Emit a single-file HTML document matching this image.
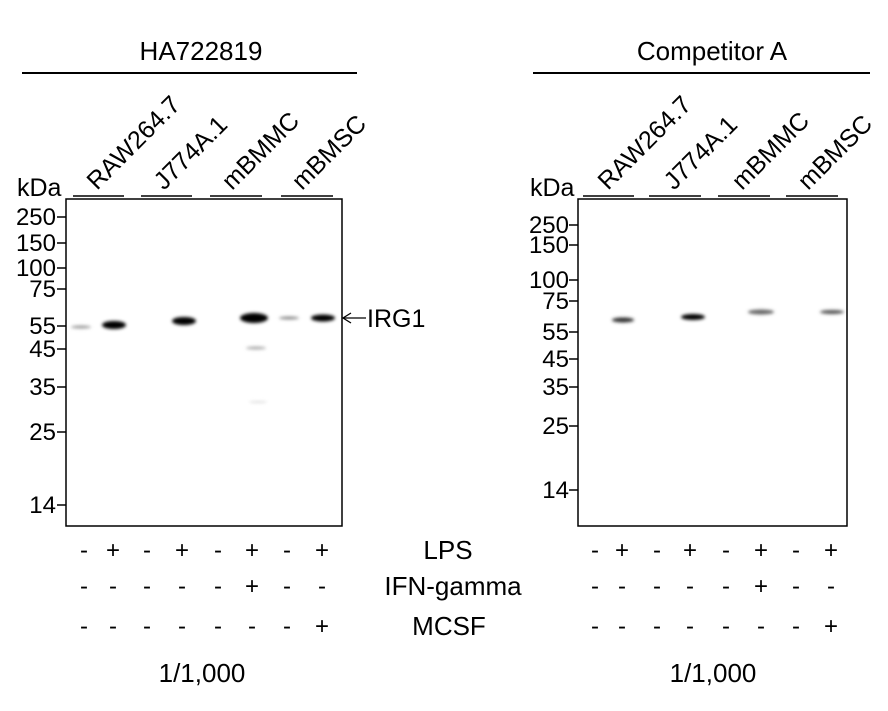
<!DOCTYPE html>
<html><head><meta charset="utf-8"><style>
html,body{margin:0;padding:0;background:#fff}
svg{display:block}
text{font-family:"Liberation Sans",Arial,sans-serif;fill:#000}
</style></head><body>
<svg width="888" height="711" viewBox="0 0 888 711" xmlns="http://www.w3.org/2000/svg">
<defs>
<filter id="b" x="-50%" y="-200%" width="200%" height="500%"><feGaussianBlur stdDeviation="1.6"/></filter>
</defs>
<!-- titles -->
<text x="201" y="60" font-size="26" text-anchor="middle">HA722819</text>
<line x1="22" y1="73" x2="357" y2="73" stroke="#000" stroke-width="2"/>
<text x="712" y="60" font-size="26" text-anchor="middle">Competitor A</text>
<line x1="533" y1="73" x2="870" y2="73" stroke="#000" stroke-width="2"/>

<!-- LEFT blot -->
<rect x="66" y="199" width="276" height="327" fill="#fff" stroke="#000" stroke-width="1.5"/>
<text x="17" y="196" font-size="25">kDa</text>
<g stroke="#000" stroke-width="1.5">
<line x1="73" y1="196" x2="124" y2="196"/><line x1="141" y1="196" x2="192" y2="196"/>
<line x1="210" y1="196" x2="262" y2="196"/><line x1="281" y1="196" x2="333" y2="196"/>
</g>
<g font-size="25">
<text transform="translate(97,191) rotate(-45)">RAW264.7</text>
<text transform="translate(164,191) rotate(-45)">J774A.1</text>
<text transform="translate(232,191) rotate(-45)">mBMMC</text>
<text transform="translate(302,191) rotate(-45)">mBMSC</text>
</g>
<g font-size="24" text-anchor="end">
<text x="56" y="225">250</text><text x="56" y="251">150</text><text x="56" y="276">100</text>
<text x="56" y="297">75</text><text x="56" y="334">55</text><text x="56" y="357">45</text>
<text x="56" y="395">35</text><text x="56" y="440">25</text><text x="56" y="513">14</text>
</g>
<g stroke="#000" stroke-width="1.5">
<line x1="57" y1="217" x2="66" y2="217"/><line x1="57" y1="243" x2="66" y2="243"/><line x1="57" y1="268" x2="66" y2="268"/>
<line x1="57" y1="289" x2="66" y2="289"/><line x1="57" y1="326" x2="66" y2="326"/><line x1="57" y1="349" x2="66" y2="349"/>
<line x1="57" y1="387" x2="66" y2="387"/><line x1="57" y1="432" x2="66" y2="432"/><line x1="57" y1="505" x2="66" y2="505"/>
</g>
<g filter="url(#b)">
<ellipse cx="81" cy="327" rx="10" ry="1.5" fill="#999"/>
<ellipse cx="114" cy="325" rx="12" ry="4" fill="#000"/>
<ellipse cx="184" cy="321" rx="12" ry="4" fill="#000"/>
<ellipse cx="254" cy="318" rx="14" ry="5" fill="#000"/>
<ellipse cx="289" cy="318" rx="10" ry="1.5" fill="#888"/>
<ellipse cx="323" cy="318" rx="12" ry="3.5" fill="#000"/>
<ellipse cx="256" cy="348" rx="10" ry="1.5" fill="#aaa"/>
<ellipse cx="258" cy="402" rx="9" ry="1" fill="#ddd"/>
</g>
<text x="367" y="327" font-size="25">IRG1</text>
<line x1="344" y1="318" x2="366" y2="318" stroke="#000" stroke-width="1.3"/>
<path d="M351,313 L343,318 L351,323" fill="none" stroke="#000" stroke-width="1.3"/>

<!-- RIGHT blot -->
<rect x="578" y="199" width="269" height="327" fill="#fff" stroke="#000" stroke-width="1.5"/>
<text x="530" y="196" font-size="25">kDa</text>
<g stroke="#000" stroke-width="1.5">
<line x1="583" y1="196" x2="634" y2="196"/><line x1="649" y1="196" x2="701" y2="196"/>
<line x1="718" y1="196" x2="770" y2="196"/><line x1="786" y1="196" x2="838" y2="196"/>
</g>
<g font-size="25">
<text transform="translate(608,191) rotate(-45)">RAW264.7</text>
<text transform="translate(674,191) rotate(-45)">J774A.1</text>
<text transform="translate(742,191) rotate(-45)">mBMMC</text>
<text transform="translate(808,191) rotate(-45)">mBMSC</text>
</g>
<g font-size="24" text-anchor="end">
<text x="569" y="233">250</text><text x="569" y="253">150</text><text x="569" y="288">100</text>
<text x="569" y="309">75</text><text x="569" y="340">55</text><text x="569" y="367">45</text>
<text x="569" y="395">35</text><text x="569" y="434">25</text><text x="569" y="498">14</text>
</g>
<g stroke="#000" stroke-width="1.5">
<line x1="569" y1="225" x2="578" y2="225"/><line x1="569" y1="245" x2="578" y2="245"/><line x1="569" y1="280" x2="578" y2="280"/>
<line x1="569" y1="301" x2="578" y2="301"/><line x1="569" y1="332" x2="578" y2="332"/><line x1="569" y1="359" x2="578" y2="359"/>
<line x1="569" y1="387" x2="578" y2="387"/><line x1="569" y1="426" x2="578" y2="426"/><line x1="569" y1="490" x2="578" y2="490"/>
</g>
<g filter="url(#b)">
<ellipse cx="623" cy="320" rx="11" ry="2.5" fill="#333"/>
<ellipse cx="693" cy="317" rx="12" ry="3" fill="#000"/>
<ellipse cx="761" cy="312" rx="13" ry="2.5" fill="#666"/>
<ellipse cx="832" cy="312" rx="12" ry="2" fill="#555"/>
</g>

<!-- condition rows -->
<g font-size="24" text-anchor="middle">
<text x="84" y="558">-</text><text x="113" y="558">+</text><text x="147" y="558">-</text><text x="182" y="558">+</text>
<text x="218" y="558">-</text><text x="252" y="558">+</text><text x="287" y="558">-</text><text x="322" y="558">+</text>
<text x="84" y="594">-</text><text x="113" y="594">-</text><text x="147" y="594">-</text><text x="182" y="594">-</text>
<text x="218" y="594">-</text><text x="252" y="594">+</text><text x="287" y="594">-</text><text x="322" y="594">-</text>
<text x="84" y="634">-</text><text x="113" y="634">-</text><text x="147" y="634">-</text><text x="182" y="634">-</text>
<text x="218" y="634">-</text><text x="252" y="634">-</text><text x="287" y="634">-</text><text x="322" y="634">+</text>

<text x="595" y="558">-</text><text x="622" y="558">+</text><text x="657" y="558">-</text><text x="690" y="558">+</text>
<text x="726" y="558">-</text><text x="761" y="558">+</text><text x="796" y="558">-</text><text x="831" y="558">+</text>
<text x="595" y="594">-</text><text x="622" y="594">-</text><text x="657" y="594">-</text><text x="690" y="594">-</text>
<text x="726" y="594">-</text><text x="761" y="594">+</text><text x="796" y="594">-</text><text x="831" y="594">-</text>
<text x="595" y="634">-</text><text x="622" y="634">-</text><text x="657" y="634">-</text><text x="690" y="634">-</text>
<text x="726" y="634">-</text><text x="761" y="634">-</text><text x="796" y="634">-</text><text x="831" y="634">+</text>
</g>
<g font-size="26" text-anchor="middle">
<text x="448" y="559">LPS</text>
<text x="453" y="595">IFN-gamma</text>
<text x="449" y="635">MCSF</text>
<text x="202" y="682">1/1,000</text>
<text x="713" y="682">1/1,000</text>
</g>
</svg>
</body></html>
